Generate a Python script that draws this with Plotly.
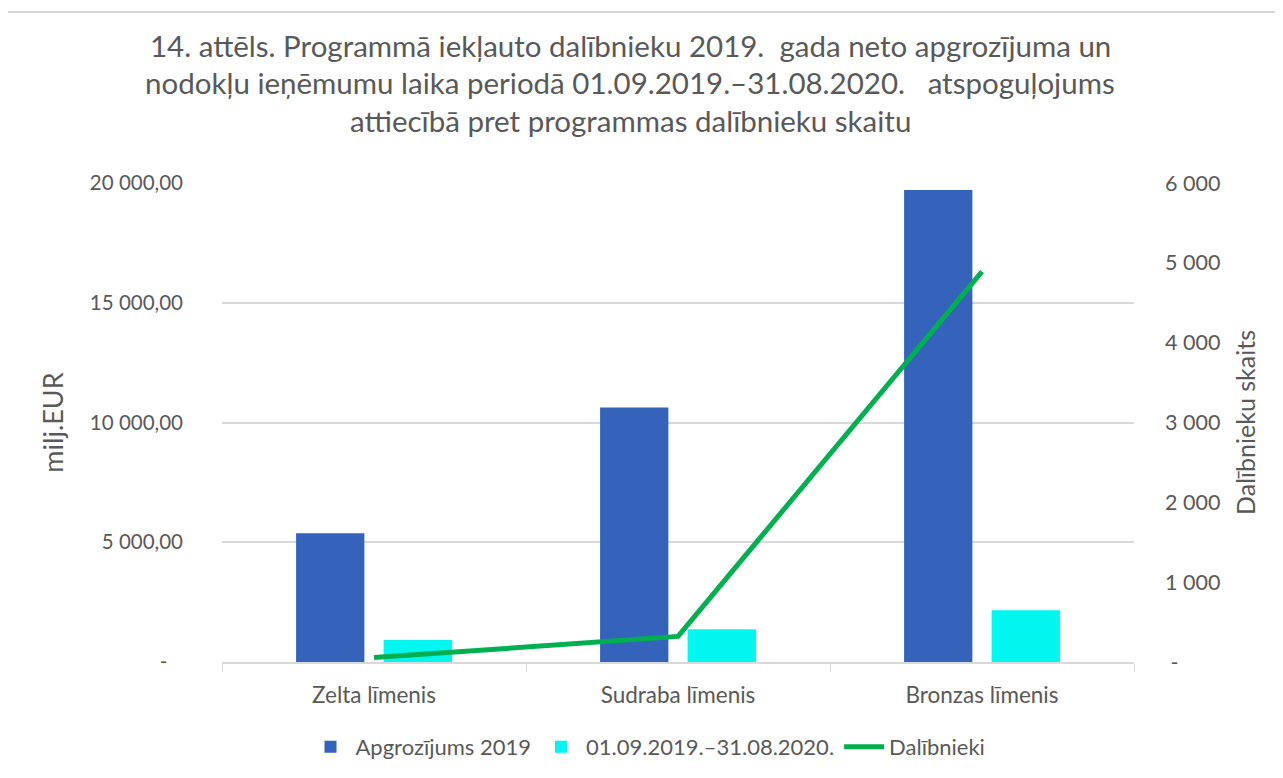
import plotly.graph_objects as go

categories = ["Zelta līmenis", "Sudraba līmenis", "Bronzas līmenis"]
apgrozijums_2019 = [5380, 10630, 19710]
nodokli_periods = [920, 1365, 2160]
dalibnieki = [55, 320, 4890]

left_tickvals = [0, 5000, 10000, 15000, 20000]
left_ticktext = ["-\u00a0\u00a0\u00a0", "5 000,00", "10 000,00", "15 000,00", "20 000,00"]
right_tickvals = [0, 1000, 2000, 3000, 4000, 5000, 6000]
right_ticktext = ["\u00a0-", "1 000", "2 000", "3 000", "4 000", "5 000", "6 000"]

title_lines = [
    "14. attēls. Programmā iekļauto dalībnieku 2019.  gada neto apgrozījuma un",
    "nodokļu ieņēmumu laika periodā 01.09.2019.–31.08.2020.   atspoguļojums",
    "attiecībā pret programmas dalībnieku skaitu",
]

FONT = "Lato"
TXT = "#595959"
GRID = "#d9d9d9"

OFF = 8  # page body margin
W, H = 1283 - OFF, 778 - OFF
L, T = 222 - OFF, 183 - OFF
R = W - (1134 - OFF)
B = H - (662 - OFF)
ph = H - T - B
pw = W - L - R

def px_x(x):
    return (x - OFF - L) / pw

def px_y(y):
    return (H - B - (y - OFF)) / ph

fig = go.Figure()
fig.add_trace(go.Bar(name="Apgrozījums 2019", x=categories, y=apgrozijums_2019,
                     marker=dict(color="#3563BC", line=dict(width=0))))
fig.add_trace(go.Bar(name="01.09.2019.–31.08.2020.", x=categories, y=nodokli_periods,
                     marker=dict(color="#00F7EF", line=dict(width=0))))
fig.add_trace(go.Scatter(name="Dalībnieki", x=categories, y=dalibnieki, yaxis="y2",
                         mode="lines", line=dict(color="#00B050", width=5)))

annotations = []
for txt, ypx in zip(title_lines, [45, 83, 121]):
    annotations.append(dict(text=txt, xref="paper", yref="paper", x=px_x(630), y=px_y(ypx),
                            xanchor="center", yanchor="middle", showarrow=False,
                            font=dict(family=FONT, size=29.5, color=TXT)))

fig.update_layout(
    width=W, height=H,
    margin=dict(l=L, r=R, t=T, b=B, autoexpand=False),
    paper_bgcolor="white", plot_bgcolor="white",
    barmode="group", bargap=0.424, bargroupgap=0.22,
    font=dict(family=FONT, color=TXT, size=20),
    showlegend=True,
    legend=dict(orientation="h", x=px_x(648), xanchor="center", y=px_y(747), yanchor="middle",
                font=dict(family=FONT, size=22, color=TXT), itemwidth=40,
                traceorder="normal"),
    annotations=annotations,
    xaxis=dict(showgrid=False, showline=True, linecolor=GRID, linewidth=1.5,
               ticks="outside", tickson="boundaries", ticklen=8, tickcolor=GRID,
               tickfont=dict(family=FONT, size=22.5, color=TXT), ticklabelstandoff=12),
    yaxis=dict(range=[0, 20000], tickvals=left_tickvals, ticktext=left_ticktext,
               showgrid=True, gridcolor=GRID, gridwidth=1.5, zeroline=False, showline=False,
               tickfont=dict(family=FONT, size=20.5, color=TXT), ticklabelstandoff=38,
               title=dict(text="milj.EUR", font=dict(family=FONT, size=27, color=TXT), standoff=18)),
    yaxis2=dict(range=[0, 6000], tickvals=right_tickvals, ticktext=right_ticktext,
                overlaying="y", side="right", showgrid=False, zeroline=False, showline=False,
                tickfont=dict(family=FONT, size=21.5, color=TXT), ticklabelstandoff=30,
                title=dict(text="Dalībnieku skaits", font=dict(family=FONT, size=25, color=TXT), standoff=18)),
    shapes=[
        dict(type="line", xref="paper", yref="paper",
             x0=px_x(8), x1=px_x(1277), y0=px_y(12), y1=px_y(12),
             line=dict(color=GRID, width=2), layer="above"),
        dict(type="line", xref="paper", yref="paper",
             x0=px_x(1277), x1=px_x(1277), y0=px_y(12), y1=px_y(800),
             line=dict(color=GRID, width=2), layer="above"),
    ],
)

fig.write_html("out.html")
